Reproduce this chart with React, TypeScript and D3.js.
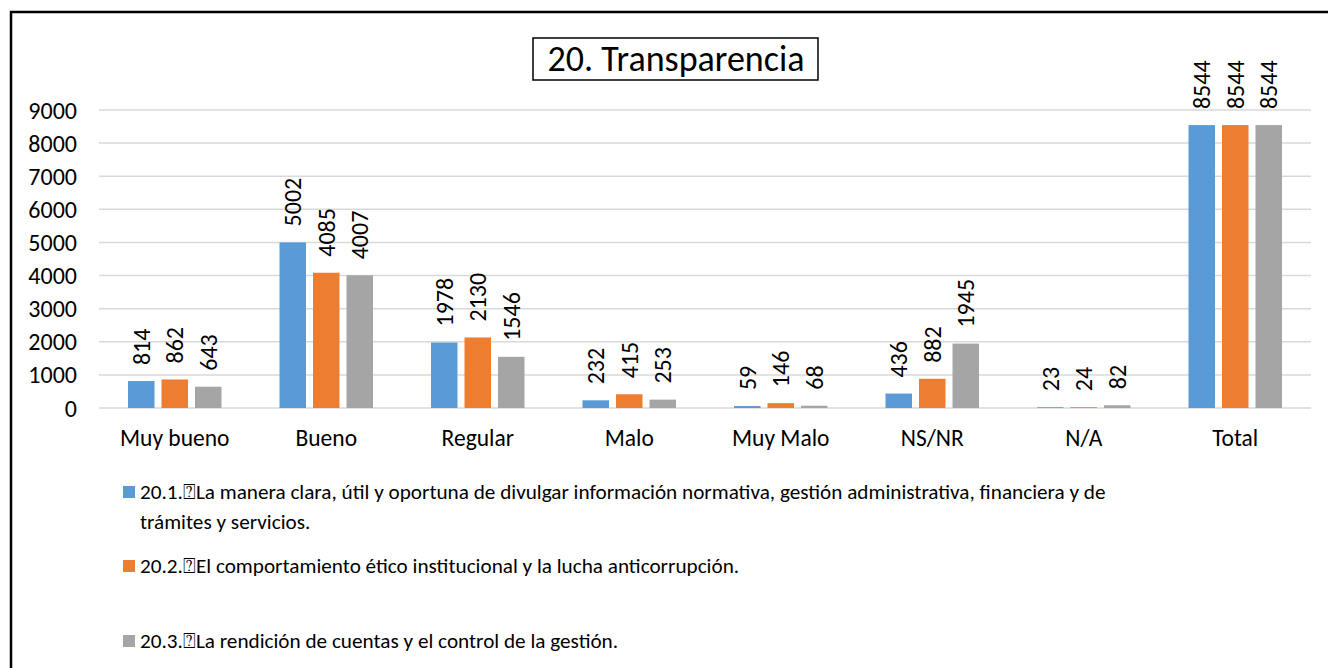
import React from "react";
import * as d3 from "d3";

const categories = ["Muy bueno", "Bueno", "Regular", "Malo", "Muy Malo", "NS/NR", "N/A", "Total"];
const seriesNames = ["20.1", "20.2", "20.3"];
const series1 = [814, 5002, 1978, 232, 59, 436, 23, 8544];
const series2 = [862, 4085, 2130, 415, 146, 882, 24, 8544];
const series3 = [643, 4007, 1546, 253, 68, 1945, 82, 8544];
const yTicks = [0, 1000, 2000, 3000, 4000, 5000, 6000, 7000, 8000, 9000];
const title = "20. Transparencia";
const legendLines = [
  { key: "20.1", lines: ["20.1.\u2370La manera clara, útil y oportuna de divulgar información normativa, gestión administrativa, financiera y de", "trámites y servicios."] },
  { key: "20.2", lines: ["20.2.\u2370El comportamiento ético institucional y la lucha anticorrupción."] },
  { key: "20.3", lines: ["20.3.\u2370La rendición de cuentas y el control de la gestión."] },
];
const colors = ["#5B9BD5", "#ED7D31", "#A5A5A5"];

const FONT = "Carlito, Calibri, Lato, 'Noto Sans', sans-serif";

export default function App() {
  const W = 1328, H = 668;
  const x0 = d3.scaleBand<string>().domain(categories).range([99, 1311]);
  const x1 = d3.scaleBand<string>().domain(seriesNames).range([-46.75, 46.75]).paddingInner(0.209);
  const y = d3.scaleLinear().domain([0, 9000]).range([408, 110]);
  const data = [series1, series2, series3];
  const legendY = [492, 566, 641];

  return (
    <svg width={W} height={H} style={{ position: "absolute", left: 0, top: 0, background: "#fff" }} fontFamily={FONT}>
      <rect x={0} y={0} width={W} height={H} fill="#fff" />
      <rect x={11} y={12} width={1500} height={900} fill="none" stroke="#000" strokeWidth={2.5} />
      {yTicks.map((t) => (
        <g key={t}>
          <line x1={99} x2={1311} y1={y(t)} y2={y(t)} stroke="#D9D9D9" strokeWidth={1.5} />
          <text x={77} y={y(t)} textAnchor="end" dominantBaseline="central" fontSize={24} fill="#000">{t}</text>
        </g>
      ))}
      {categories.map((c, i) => {
        const cx = (x0(c) as number) + x0.bandwidth() / 2;
        return (
          <g key={c}>
            {data.map((s, j) => {
              const bx = cx + (x1(seriesNames[j]) as number);
              const bw = x1.bandwidth();
              const v = s[i];
              return (
                <g key={j}>
                  <rect x={bx} y={y(v)} width={bw} height={y(0) - y(v)} fill={colors[j]} />
                  <text transform={`translate(${bx + bw / 2},${y(v) - 16}) rotate(-90)`} textAnchor="start" dominantBaseline="central" fontSize={24} fill="#000">{v}</text>
                </g>
              );
            })}
            <text x={cx} y={438} textAnchor="middle" dominantBaseline="central" fontSize={23.5} fill="#000">{c}</text>
          </g>
        );
      })}
      <rect x={533} y={38} width={285} height={42} fill="#fff" stroke="#000" strokeWidth={1.5} />
      <text x={676} y={59} textAnchor="middle" dominantBaseline="central" fontSize={36} fill="#000">{title}</text>
      {legendLines.map((l, j) => (
        <g key={l.key}>
          <rect x={123} y={legendY[j] - 6} width={12} height={12} fill={colors[j]} />
          {l.lines.map((ln, k) => (
            <text key={k} x={140} y={legendY[j] + k * 30} dominantBaseline="central" fontSize={21.2} fill="#000">{ln}</text>
          ))}
        </g>
      ))}
    </svg>
  );
}
